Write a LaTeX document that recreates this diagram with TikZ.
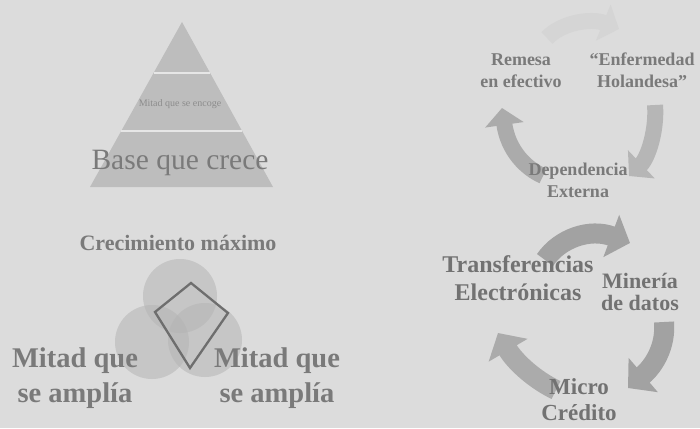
\documentclass[tikz,border=0pt]{standalone}
\usepackage{fontspec}
\setmainfont{Liberation Serif}
\usetikzlibrary{arrows.meta,calc}
\definecolor{bg}{HTML}{DCDCDC}
\definecolor{pyr}{HTML}{BDBDBD}
\definecolor{pyrline}{HTML}{E6E6E6}
\definecolor{txt}{HTML}{7A7A7A}
\definecolor{txtdark}{HTML}{727272}
\definecolor{txtlight}{HTML}{8C8C8C}
\definecolor{circ}{HTML}{B4B4B4}
\definecolor{kitec}{HTML}{6E6E6E}
\definecolor{arrA}{HTML}{D5D5D5}
\definecolor{arrB}{HTML}{B6B6B6}
\definecolor{arrC}{HTML}{ABABAB}
\definecolor{arrD}{HTML}{A2A2A2}
\tikzset{
  lbl/.style args={#1/#2}{text=txt, font=\bfseries\fontsize{#1}{#2}\selectfont, align=center, anchor=base, inner sep=0pt},
  circstyle/.style={fill=circ, fill opacity=0.55},
  cycarrow/.style={line width=16pt, -{Triangle[length=17pt,width=38pt]}},
  blockarrow/.style={line width=20pt, -{Triangle[length=20pt,width=44pt]}},
}
\begin{document}
\begin{tikzpicture}[x=1pt,y=-1pt]
\fill[bg] (0,0) rectangle (700,428);
\useasboundingbox (0,0) rectangle (700,428);

% ---------- pyramid ----------
\coordinate (apex) at (182,22);
\coordinate (bl) at (90,187);
\coordinate (br) at (273,187);
\fill[pyr] (apex) -- (br) -- (bl) -- cycle;
\draw[pyrline, line width=2pt] ($(apex)!0.309!(bl)$) -- ($(apex)!0.309!(br)$);
\draw[pyrline, line width=2pt] ($(apex)!0.661!(bl)$) -- ($(apex)!0.661!(br)$);
\node[text=txtlight, font=\fontsize{10}{12}\selectfont, inner sep=0pt] (encoge) at (180,104) {Mitad que se encoge};
\node[text=txt, font=\fontsize{29.5}{34}\selectfont, anchor=base, inner sep=0pt] (crece) at (180,169) {Base que crece};

% ---------- circles ----------
\node[lbl=22/26] (maximo) at (178,250) {Crecimiento máximo};
\fill[circstyle] (180,296) circle[radius=37];
\fill[circstyle] (152,342) circle[radius=37];
\fill[circstyle] (205,340) circle[radius=37];
\coordinate (k1) at (191,283);
\coordinate (k2) at (228,313);
\coordinate (k3) at (190,368);
\coordinate (k4) at (155,312);
\draw[kitec, line width=2.3pt, line join=miter] (k1) -- (k2) -- (k3) -- (k4) -- cycle;
\node[lbl=28.5/35] (mizq) at (75,402) {Mitad que\\se amplía};
\node[lbl=28.5/35] (mder) at (277,402) {Mitad que\\se amplía};

% ---------- upper cycle ----------
\coordinate (a1s) at (547,38);
\coordinate (a1e) at (619,29);
\draw[cycarrow, arrA] (a1s) .. controls (562,22) and (592,18) .. (a1e);
\coordinate (a2s) at (655,105);
\coordinate (a2e) at (629,176);
\draw[cycarrow, arrB] (a2s) .. controls (657,130) and (648,158) .. (a2e);
\coordinate (a3s) at (543,176);
\coordinate (a3e) at (502,108);
\draw[cycarrow, arrC] (a3s) .. controls (525,168) and (508,150) .. (a3e);
\node[lbl=18/22] (remesa) at (521,87) {Remesa\\en efectivo};
\node[lbl=18/22] (holand) at (642,87) {“Enfermedad\\Holandesa”};
\node[lbl=18/22] (depend) at (578,197) {Dependencia\\Externa};

% ---------- lower cycle ----------
\coordinate (b1s) at (545,260);
\coordinate (b1e) at (630,243);
\draw[blockarrow, arrD] (b1s) .. controls (560,238) and (590,228) .. (b1e);
\coordinate (b2s) at (664,322);
\coordinate (b2e) at (628,388);
\draw[blockarrow, arrD] (b2s) .. controls (666,345) and (655,365) .. (b2e);
\coordinate (b3s) at (556,390);
\coordinate (b3e) at (498,333);
\draw[blockarrow, arrC] (b3s) .. controls (535,380) and (515,362) .. (b3e);
\node[lbl=24/28, text=txtdark] (transf) at (518,300) {Transferencias\\Electrónicas};
\node[lbl=22/22, text=txtdark] (mineria) at (640,310) {Minería\\de datos};
\node[lbl=23/26, text=txtdark] (micro) at (579,420) {Micro\\Crédito};
\end{tikzpicture}
\end{document}
